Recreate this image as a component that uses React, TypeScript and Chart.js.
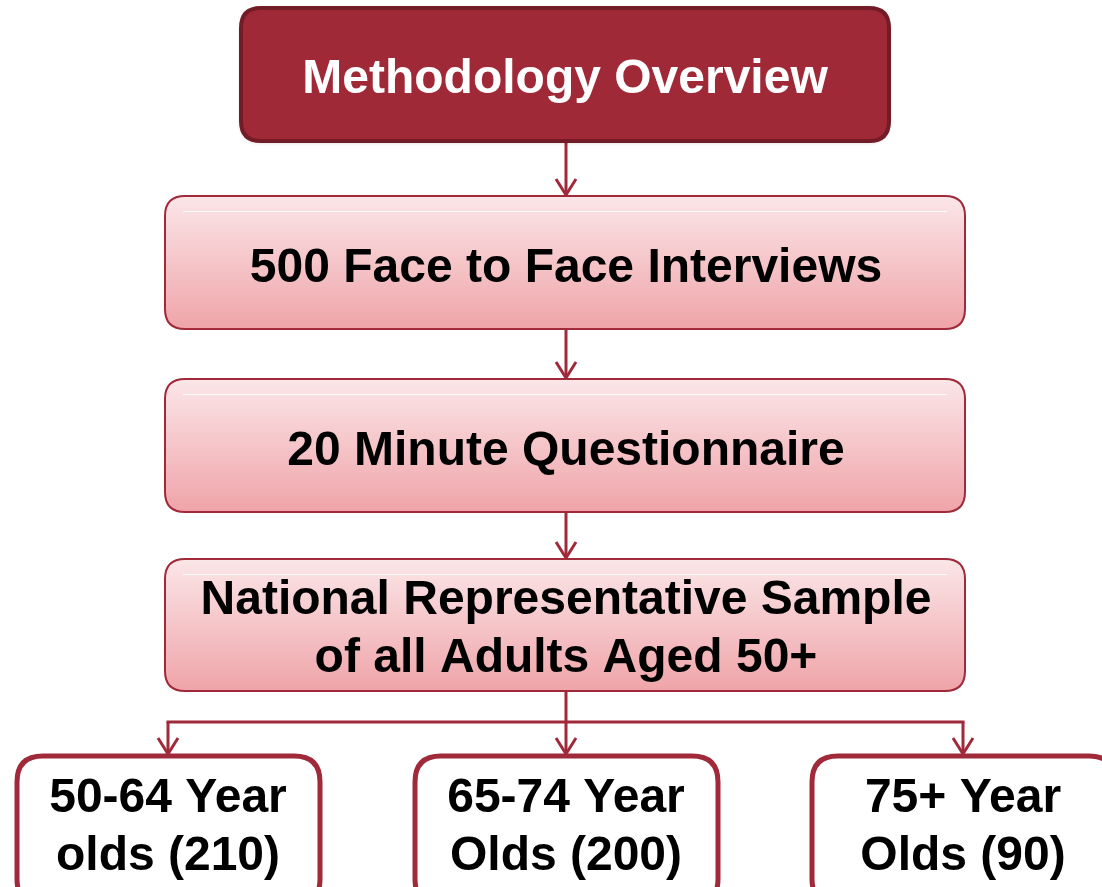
import React, { useEffect, useRef } from "react";
import { Chart, registerables } from "chart.js";

Chart.register(...registerables);

// ---- content ----
const titleLabel = ["Methodology Overview"];
const stepLabels = [
  ["500 Face to Face Interviews"],
  ["20 Minute Questionnaire"],
  ["National Representative Sample", "of all Adults Aged 50+"],
];
const groupLabels = [
  ["50-64 Year", "olds (210)"],
  ["65-74 Year", "Olds (200)"],
  ["75+ Year", "Olds (90)"],
];

// ---- layout (diagram units = px of a 1102x887 frame) ----
const W = 1102;
const H = 887;
const titleBox = { x0: 241, x1: 889, y0: 8, y1: 141, base: 93 };
const stepBoxes = [
  { x0: 165, x1: 965, y0: 196, y1: 329, base: 282 },
  { x0: 165, x1: 965, y0: 379, y1: 512, base: 465 },
  { x0: 165, x1: 965, y0: 559, y1: 691, base: 614 },
];
const groupBoxes = [
  { x0: 17, x1: 320, y0: 756, y1: 905, base: 812 },
  { x0: 415, x1: 718, y0: 756, y1: 905, base: 812 },
  { x0: 812, x1: 1115, y0: 756, y1: 905, base: 812 },
];
const centerX = 566;
const busY = 722;
const groupCx = [168, 566, 963];
const lineGap = 58;

const RED = "#a0293a";
const FONT = "bold 48px 'Liberation Sans', Arial, sans-serif";

function rr(ctx, x, y, w, h, r) {
  ctx.beginPath();
  ctx.moveTo(x + r, y);
  ctx.lineTo(x + w - r, y);
  ctx.quadraticCurveTo(x + w, y, x + w, y + r);
  ctx.lineTo(x + w, y + h - r);
  ctx.quadraticCurveTo(x + w, y + h, x + w - r, y + h);
  ctx.lineTo(x + r, y + h);
  ctx.quadraticCurveTo(x, y + h, x, y + h - r);
  ctx.lineTo(x, y + r);
  ctx.quadraticCurveTo(x, y, x + r, y);
  ctx.closePath();
}

const diagramPlugin = {
  id: "diagram",
  afterDatasetsDraw(chart) {
    const ctx = chart.ctx;
    const xs = chart.scales.x;
    const ys = chart.scales.y;
    const px = (v) => xs.getPixelForValue(v);
    const py = (v) => ys.getPixelForValue(v);
    const box = (b) => ({ x: px(b.x0), y: py(b.y0), w: px(b.x1) - px(b.x0), h: py(b.y1) - py(b.y0) });

    ctx.save();
    ctx.strokeStyle = RED;
    ctx.lineWidth = 3;
    ctx.lineCap = "butt";
    const line = (x0, y0, x1, y1) => {
      ctx.beginPath();
      ctx.moveTo(px(x0), py(y0));
      ctx.lineTo(px(x1), py(y1));
      ctx.stroke();
    };
    const arrow = (x, y0, y1) => {
      line(x, y0, x, y1 - 1);
      ctx.beginPath();
      ctx.moveTo(px(x) - 10, py(y1) - 17);
      ctx.lineTo(px(x), py(y1) - 1);
      ctx.lineTo(px(x) + 10, py(y1) - 17);
      ctx.stroke();
    };
    arrow(centerX, titleBox.y1, stepBoxes[0].y0);
    arrow(centerX, stepBoxes[0].y1, stepBoxes[1].y0);
    arrow(centerX, stepBoxes[1].y1, stepBoxes[2].y0);
    line(centerX, stepBoxes[2].y1, centerX, busY);
    line(groupCx[0] - 1.5, busY, groupCx[2] + 1.5, busY);
    groupCx.forEach((cx, i) => arrow(cx, busY, groupBoxes[i].y0 - 1));

    const textLines = (lines, cx, base) => {
      ctx.font = FONT;
      ctx.textAlign = "center";
      ctx.textBaseline = "alphabetic";
      lines.forEach((t, k) => {
        ctx.fillText(t, px(cx), py(base + k * lineGap));
      });
    };

    // title box
    {
      const b = box(titleBox);
      ctx.shadowColor = "rgba(0,0,0,0.25)";
      ctx.shadowBlur = 4;
      ctx.shadowOffsetY = 1;
      rr(ctx, b.x, b.y, b.w, b.h, 20);
      ctx.fillStyle = "#a02937";
      ctx.fill();
      ctx.shadowColor = "transparent";
      ctx.lineWidth = 4;
      ctx.strokeStyle = "#731c27";
      ctx.stroke();
      ctx.fillStyle = "#ffffff";
      textLines(titleLabel, (titleBox.x0 + titleBox.x1) / 2, titleBox.base);
    }

    // step boxes
    stepBoxes.forEach((sb, i) => {
      const b = box(sb);
      const g = ctx.createLinearGradient(0, b.y, 0, b.y + b.h);
      g.addColorStop(0, "#fbe6e8");
      g.addColorStop(1, "#efa4a9");
      rr(ctx, b.x, b.y, b.w, b.h, 20);
      ctx.fillStyle = g;
      ctx.fill();
      ctx.strokeStyle = "rgba(255,255,255,0.9)";
      ctx.lineWidth = 1;
      ctx.beginPath();
      ctx.moveTo(b.x + 18, b.y + 15.5);
      ctx.lineTo(b.x + b.w - 18, b.y + 15.5);
      ctx.stroke();
      rr(ctx, b.x, b.y, b.w, b.h, 20);
      ctx.lineWidth = 2;
      ctx.strokeStyle = RED;
      ctx.stroke();
      ctx.fillStyle = "#000000";
      textLines(stepLabels[i], centerX, sb.base);
    });

    // group boxes
    groupBoxes.forEach((gb, i) => {
      const b = box(gb);
      rr(ctx, b.x, b.y, b.w, b.h, 26);
      ctx.fillStyle = "#ffffff";
      ctx.fill();
      ctx.lineWidth = 5;
      ctx.strokeStyle = RED;
      ctx.stroke();
      ctx.fillStyle = "#000000";
      textLines(groupLabels[i], groupCx[i], gb.base);
    });
    ctx.restore();
  },
};

export default function App() {
  const ref = useRef(null);
  useEffect(() => {
    document.body.style.margin = "0";
    const nodes = [
      { x: centerX, y: (titleBox.y0 + titleBox.y1) / 2 },
      ...stepBoxes.map((b) => ({ x: (b.x0 + b.x1) / 2, y: (b.y0 + b.y1) / 2 })),
      ...groupBoxes.map((b, i) => ({ x: groupCx[i], y: (b.y0 + b.y1) / 2 })),
    ];
    const chart = new Chart(ref.current, {
      type: "scatter",
      data: {
        datasets: [{ data: nodes, pointRadius: 0, pointHoverRadius: 0 }],
      },
      options: {
        animation: false,
        responsive: false,
        events: [],
        layout: { padding: 0 },
        plugins: { legend: { display: false }, tooltip: { enabled: false } },
        scales: {
          x: { type: "linear", min: 0, max: W, display: false },
          y: { type: "linear", min: 0, max: H, reverse: true, display: false },
        },
      },
      plugins: [diagramPlugin],
    });
    return () => chart.destroy();
  }, []);
  return (
    <div style={{ position: "fixed", left: 0, top: 0, width: W, height: H, background: "#fff" }}>
      <canvas ref={ref} width={W} height={H} style={{ width: W, height: H, display: "block" }} />
    </div>
  );
}
